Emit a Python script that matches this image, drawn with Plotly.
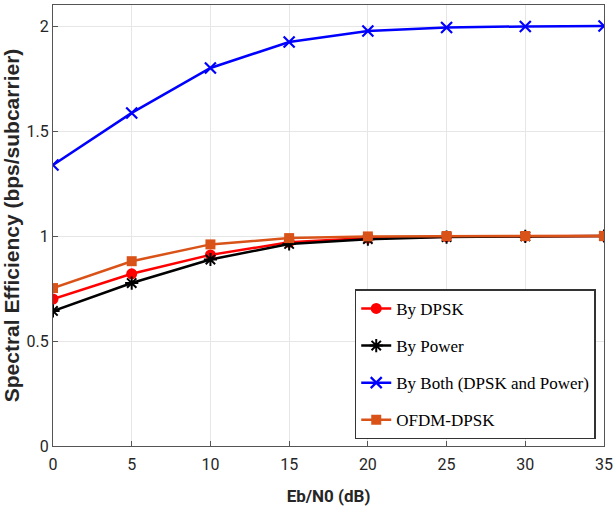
import plotly.graph_objects as go

ebn0 = [0, 5, 10, 15, 20, 25, 30, 35]
by_dpsk = [0.70, 0.82, 0.91, 0.97, 0.99, 0.997, 0.999, 1.0]
by_power = [0.643, 0.776, 0.888, 0.962, 0.985, 0.995, 0.998, 1.0]
by_both = [1.338, 1.586, 1.80, 1.924, 1.976, 1.993, 1.998, 2.0]
ofdm_dpsk = [0.752, 0.88, 0.96, 0.99, 0.998, 1.0, 1.0, 1.0]

names = ["By DPSK", "By Power", "By Both (DPSK and Power)", "OFDM-DPSK"]
x_ticks = [0, 5, 10, 15, 20, 25, 30, 35]
y_ticks = [0, 0.5, 1, 1.5, 2]
y_tick_text = ["0", "0.5", "1", "1.5", "2"]

fig = go.Figure()
fig.add_trace(go.Scatter(x=ebn0, y=by_dpsk, name=names[0], mode="lines+markers",
                         line=dict(color="#FF0000", width=2.5),
                         marker=dict(symbol="circle", size=11, color="#FF0000"),
                         legendgroup="a"))
fig.add_trace(go.Scatter(x=ebn0, y=by_power, name=names[1], mode="lines+markers",
                         line=dict(color="#000000", width=2.5),
                         marker=dict(symbol="asterisk-open", size=11, color="#000000",
                                     line=dict(width=2, color="#000000")),
                         legendgroup="b"))
fig.add_trace(go.Scatter(x=ebn0, y=by_both, name=names[2], mode="lines+markers",
                         line=dict(color="#0000FF", width=2.5),
                         marker=dict(symbol="x-thin-open", size=11, color="#0000FF",
                                     line=dict(width=2.2, color="#0000FF")),
                         legendgroup="c"))
fig.add_trace(go.Scatter(x=ebn0, y=ofdm_dpsk, name=names[3], mode="lines+markers",
                         line=dict(color="#D95319", width=2.5),
                         marker=dict(symbol="square", size=10, color="#D95319"),
                         legendgroup="d"))

axis_common = dict(showline=True, linecolor="#555555", linewidth=1, mirror=True,
                   showgrid=True, gridcolor="#E6E6E6", gridwidth=1,
                   ticks="inside", ticklen=5, tickcolor="#555555", zeroline=False,
                   ticklabeloverflow="allow", automargin=False)

tick_font = dict(family="Roboto", size=16, color="#262626")

fig.update_xaxes(range=[0, 35], tickvals=x_ticks, tickfont=tick_font,
                 ticklabelstandoff=4,
                 title=dict(text="<b>Eb/N0 (dB)</b>",
                            font=dict(family="Roboto", size=17, color="#262626"),
                            standoff=16),
                 **axis_common)
fig.update_yaxes(range=[0, 2.1], tickvals=y_ticks, ticktext=y_tick_text, tickfont=tick_font,
                 title=dict(text="<b>Spectral Efficiency (bps/subcarrier)</b>",
                            font=dict(family="Liberation Sans", size=21, color="#262626"),
                            standoff=8),
                 **axis_common)

fig.update_layout(
    width=614, height=510,
    margin=dict(l=53, r=10, t=5, b=64),
    plot_bgcolor="white", paper_bgcolor="white",
    showlegend=True,
    legend=dict(x=0.985, y=0.015, xanchor="right", yanchor="bottom",
                bgcolor="white", bordercolor="#333333", borderwidth=1.5,
                font=dict(family="Liberation Serif", size=17, color="#000000"),
                tracegroupgap=12, itemwidth=30),
)

fig.write_html("out.html")
